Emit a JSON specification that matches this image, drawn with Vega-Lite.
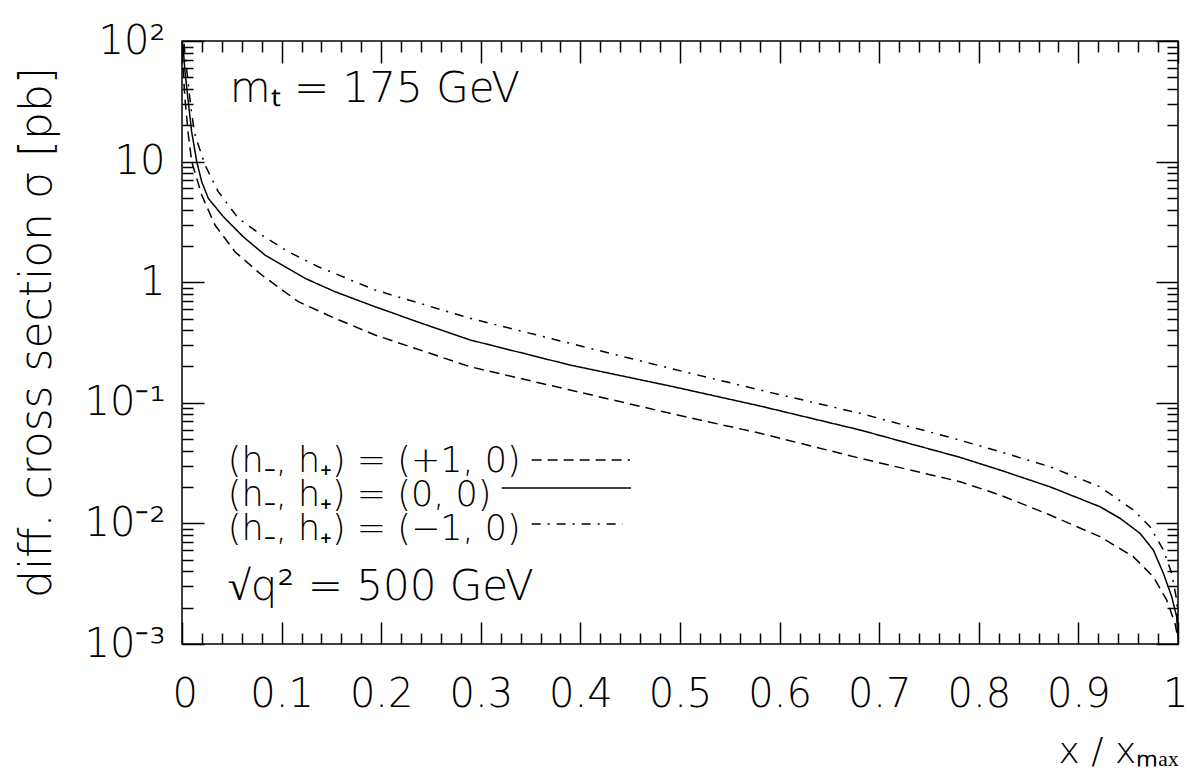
{
  "$schema": "https://vega.github.io/schema/vega-lite/v6.json",
  "autosize": {"type": "none"},
  "padding": {"left": 182, "top": 41, "right": 11, "bottom": 127},
  "width": 996,
  "height": 603,
  "background": "white",
  "config": {
    "view": {"stroke": "black", "strokeWidth": 1.5},
    "font": "DejaVu Sans",
    "axis": {"grid": false, "domain": false, "labelFont": "DejaVu Sans", "titleFont": "DejaVu Sans", "labelColor": "black", "titleColor": "black", "tickColor": "black", "tickWidth": 1.5, "labelFontWeight": 200, "titleFontWeight": 200}
  },
  "data": {"values": [
    {"x": 0.001, "s": 60, "series": "+1"},
    {"x": 0.003, "s": 33, "series": "+1"},
    {"x": 0.0063, "s": 17, "series": "+1"},
    {"x": 0.0097, "s": 10, "series": "+1"},
    {"x": 0.0198, "s": 5.28, "series": "+1"},
    {"x": 0.0331, "s": 2.98, "series": "+1"},
    {"x": 0.0532, "s": 1.79, "series": "+1"},
    {"x": 0.08, "s": 1.147, "series": "+1"},
    {"x": 0.1168, "s": 0.689, "series": "+1"},
    {"x": 0.1536, "s": 0.502, "series": "+1"},
    {"x": 0.1938, "s": 0.365, "series": "+1"},
    {"x": 0.2892, "s": 0.1992, "series": "+1"},
    {"x": 0.3896, "s": 0.1277, "series": "+1"},
    {"x": 0.49, "s": 0.0818, "series": "+1"},
    {"x": 0.5803, "s": 0.0559, "series": "+1"},
    {"x": 0.6807, "s": 0.0347, "series": "+1"},
    {"x": 0.7811, "s": 0.02217, "series": "+1"},
    {"x": 0.8213, "s": 0.0172, "series": "+1"},
    {"x": 0.8715, "s": 0.01174, "series": "+1"},
    {"x": 0.9217, "s": 0.00776, "series": "+1"},
    {"x": 0.9551, "s": 0.0053, "series": "+1"},
    {"x": 0.9752, "s": 0.00361, "series": "+1"},
    {"x": 0.9886, "s": 0.00232, "series": "+1"},
    {"x": 0.997, "s": 0.00148, "series": "+1"},
    {"x": 0.9998, "s": 0.00112, "series": "+1"},
    {"x": 0.001, "s": 92.6, "series": "0"},
    {"x": 0.003, "s": 55.6, "series": "0"},
    {"x": 0.0063, "s": 31.4, "series": "0"},
    {"x": 0.0097, "s": 17.7, "series": "0"},
    {"x": 0.0148, "s": 9.98, "series": "0"},
    {"x": 0.0198, "s": 6.81, "series": "0"},
    {"x": 0.0264, "s": 4.96, "series": "0"},
    {"x": 0.0415, "s": 3.49, "series": "0"},
    {"x": 0.0615, "s": 2.38, "series": "0"},
    {"x": 0.0833, "s": 1.68, "series": "0"},
    {"x": 0.1235, "s": 1.077, "series": "0"},
    {"x": 0.1536, "s": 0.834, "series": "0"},
    {"x": 0.1938, "s": 0.626, "series": "0"},
    {"x": 0.239, "s": 0.461, "series": "0"},
    {"x": 0.2892, "s": 0.332, "series": "0"},
    {"x": 0.3896, "s": 0.2057, "series": "0"},
    {"x": 0.49, "s": 0.1378, "series": "0"},
    {"x": 0.5803, "s": 0.0941, "series": "0"},
    {"x": 0.6807, "s": 0.0595, "series": "0"},
    {"x": 0.7811, "s": 0.0353, "series": "0"},
    {"x": 0.8213, "s": 0.0277, "series": "0"},
    {"x": 0.8715, "s": 0.0201, "series": "0"},
    {"x": 0.9217, "s": 0.01375, "series": "0"},
    {"x": 0.9418, "s": 0.01102, "series": "0"},
    {"x": 0.9618, "s": 0.00828, "series": "0"},
    {"x": 0.9752, "s": 0.00602, "series": "0"},
    {"x": 0.9853, "s": 0.00386, "series": "0"},
    {"x": 0.9937, "s": 0.00247, "series": "0"},
    {"x": 0.9987, "s": 0.00168, "series": "0"},
    {"x": 0.9998, "s": 0.00115, "series": "0"},
    {"x": 0.002, "s": 95, "series": "-1"},
    {"x": 0.003, "s": 78, "series": "-1"},
    {"x": 0.006, "s": 46, "series": "-1"},
    {"x": 0.0097, "s": 25, "series": "-1"},
    {"x": 0.0131, "s": 16.6, "series": "-1"},
    {"x": 0.0231, "s": 9.37, "series": "-1"},
    {"x": 0.0364, "s": 5.63, "series": "-1"},
    {"x": 0.0565, "s": 3.39, "series": "-1"},
    {"x": 0.08, "s": 2.46, "series": "-1"},
    {"x": 0.1067, "s": 1.79, "series": "-1"},
    {"x": 0.1368, "s": 1.344, "series": "-1"},
    {"x": 0.1938, "s": 0.862, "series": "-1"},
    {"x": 0.2892, "s": 0.502, "series": "-1"},
    {"x": 0.3896, "s": 0.3113, "series": "-1"},
    {"x": 0.49, "s": 0.1932, "series": "-1"},
    {"x": 0.5803, "s": 0.1277, "series": "-1"},
    {"x": 0.6807, "s": 0.0818, "series": "-1"},
    {"x": 0.7744, "s": 0.0508, "series": "-1"},
    {"x": 0.8213, "s": 0.0393, "series": "-1"},
    {"x": 0.8715, "s": 0.0295, "series": "-1"},
    {"x": 0.9217, "s": 0.0201, "series": "-1"},
    {"x": 0.9551, "s": 0.01292, "series": "-1"},
    {"x": 0.9719, "s": 0.00939, "series": "-1"},
    {"x": 0.9853, "s": 0.00602, "series": "-1"},
    {"x": 0.9937, "s": 0.00386, "series": "-1"},
    {"x": 0.9987, "s": 0.00232, "series": "-1"},
    {"x": 0.9998, "s": 0.0014, "series": "-1"}
  ]},
  "resolve": {"axis": {"x": "independent", "y": "independent"}},
  "layer": [
    {
      "mark": {"type": "line", "color": "black", "strokeWidth": 1.5, "clip": true},
      "encoding": {
        "x": {"field": "x", "type": "quantitative", "sort": null,
          "scale": {"domain": [0, 1], "nice": false, "zero": false},
          "axis": {"orient": "bottom", "values": [0, 0.1, 0.2, 0.3, 0.4, 0.5, 0.6, 0.7, 0.8, 0.9, 1], "ticks": false, "labelFontSize": 40, "labelPadding": 30, "labelFlush": true, "labelFlushOffset": 10, "labelOverlap": false, "labelBound": false,
            "labelExpr": "datum.value == 0 ? '0' : datum.value == 1 ? '1' : format(datum.value, '.1f')",
            "title": "x / xₘₐₓ", "titleFontSize": 36, "titleX": 996, "titleY": 118, "titleAlign": "right", "titleBaseline": "alphabetic", "titleAnchor": null}},
        "y": {"field": "s", "type": "quantitative",
          "scale": {"type": "log", "domain": [0.001, 100], "nice": false},
          "axis": {"orient": "left", "values": [0.001, 0.01, 0.1, 1, 10, 100], "ticks": false, "labelFontSize": 40, "labelPadding": 17, "labelOverlap": false, "labelBound": false, "labelFlush": false,
            "labelExpr": "datum.value >= 50 ? '10²' : datum.value >= 5 ? '10\u2007' : datum.value >= 0.5 ? '1\u2007' : datum.value >= 0.05 ? '10⁻¹' : datum.value >= 0.005 ? '10⁻²' : '10⁻³'",
            "title": "diff. cross section σ [pb]", "titleFontSize": 44, "titleAngle": -90, "titleX": -145, "titleY": 291, "titleAlign": "center", "titleBaseline": "middle", "titleAnchor": null}},
        "strokeDash": {"field": "series", "type": "nominal",
          "scale": {"domain": ["+1", "0", "-1"], "range": [[10, 6], [1, 0], [9, 7, 2, 7]]},
          "legend": null}
      }
    },
    {
      "mark": {"type": "point", "opacity": 0},
      "encoding": {
        "x": {"field": "x", "type": "quantitative", "axis": {"orient": "bottom", "values": [0, 0.1, 0.2, 0.3, 0.4, 0.5, 0.6, 0.7, 0.8, 0.9, 1], "labels": false, "tickSize": -22, "title": null}},
        "y": {"field": "s", "type": "quantitative", "axis": {"orient": "left", "values": [0.001, 0.01, 0.1, 1, 10, 100], "labels": false, "tickSize": -22, "title": null}}
      }
    },
    {
      "mark": {"type": "point", "opacity": 0},
      "encoding": {
        "x": {"field": "x", "type": "quantitative", "axis": {"orient": "bottom", "values": [0.02, 0.04, 0.06, 0.08, 0.12, 0.14, 0.16, 0.18, 0.22, 0.24, 0.26, 0.28, 0.32, 0.34, 0.36, 0.38, 0.42, 0.44, 0.46, 0.48, 0.52, 0.54, 0.56, 0.58, 0.62, 0.64, 0.66, 0.68, 0.72, 0.74, 0.76, 0.78, 0.82, 0.84, 0.86, 0.88, 0.92, 0.94, 0.96, 0.98], "labels": false, "tickSize": -11, "title": null}},
        "y": {"field": "s", "type": "quantitative", "axis": {"orient": "left", "values": [0.002, 0.003, 0.004, 0.005, 0.006, 0.007, 0.008, 0.009, 0.02, 0.03, 0.04, 0.05, 0.06, 0.07, 0.08, 0.09, 0.2, 0.3, 0.4, 0.5, 0.6, 0.7, 0.8, 0.9, 2, 3, 4, 5, 6, 7, 8, 9, 20, 30, 40, 50, 60, 70, 80, 90], "labels": false, "tickSize": -11, "title": null}}
      }
    },
    {
      "mark": {"type": "point", "opacity": 0},
      "encoding": {
        "x": {"field": "x", "type": "quantitative", "axis": {"orient": "top", "values": [0, 0.1, 0.2, 0.3, 0.4, 0.5, 0.6, 0.7, 0.8, 0.9, 1], "labels": false, "tickSize": -22, "title": null}},
        "y": {"field": "s", "type": "quantitative", "axis": {"orient": "right", "values": [0.001, 0.01, 0.1, 1, 10, 100], "labels": false, "tickSize": -22, "title": null}}
      }
    },
    {
      "mark": {"type": "point", "opacity": 0},
      "encoding": {
        "x": {"field": "x", "type": "quantitative", "axis": {"orient": "top", "values": [0.02, 0.04, 0.06, 0.08, 0.12, 0.14, 0.16, 0.18, 0.22, 0.24, 0.26, 0.28, 0.32, 0.34, 0.36, 0.38, 0.42, 0.44, 0.46, 0.48, 0.52, 0.54, 0.56, 0.58, 0.62, 0.64, 0.66, 0.68, 0.72, 0.74, 0.76, 0.78, 0.82, 0.84, 0.86, 0.88, 0.92, 0.94, 0.96, 0.98], "labels": false, "tickSize": -11, "title": null}},
        "y": {"field": "s", "type": "quantitative", "axis": {"orient": "right", "values": [0.002, 0.003, 0.004, 0.005, 0.006, 0.007, 0.008, 0.009, 0.02, 0.03, 0.04, 0.05, 0.06, 0.07, 0.08, 0.09, 0.2, 0.3, 0.4, 0.5, 0.6, 0.7, 0.8, 0.9, 2, 3, 4, 5, 6, 7, 8, 9, 20, 30, 40, 50, 60, 70, 80, 90], "labels": false, "tickSize": -11, "title": null}}
      }
    },
    {
      "data": {"values": [{}]},
      "mark": {"type": "text", "text": "mₜ = 175 GeV", "align": "left", "baseline": "alphabetic", "fontSize": 42, "font": "DejaVu Sans", "fontWeight": 200, "color": "black"},
      "encoding": {"x": {"datum": 0.048, "type": "quantitative", "axis": null}, "y": {"datum": 31.2, "type": "quantitative", "axis": null}}
    },
    {
      "data": {"values": [{}]},
      "mark": {"type": "text", "text": "(h₋, h₊) = (+1, 0)", "align": "left", "baseline": "alphabetic", "fontSize": 35, "font": "DejaVu Sans", "fontWeight": 200, "color": "black"},
      "encoding": {"x": {"datum": 0.046, "type": "quantitative", "axis": null}, "y": {"datum": 0.02667, "type": "quantitative", "axis": null}}
    },
    {
      "data": {"values": [{}]},
      "mark": {"type": "text", "text": "(h₋, h₊) = (0, 0)", "align": "left", "baseline": "alphabetic", "fontSize": 35, "font": "DejaVu Sans", "fontWeight": 200, "color": "black"},
      "encoding": {"x": {"datum": 0.046, "type": "quantitative", "axis": null}, "y": {"datum": 0.01394, "type": "quantitative", "axis": null}}
    },
    {
      "data": {"values": [{}]},
      "mark": {"type": "text", "text": "(h₋, h₊) = (−1, 0)", "align": "left", "baseline": "alphabetic", "fontSize": 35, "font": "DejaVu Sans", "fontWeight": 200, "color": "black"},
      "encoding": {"x": {"datum": 0.046, "type": "quantitative", "axis": null}, "y": {"datum": 0.00729, "type": "quantitative", "axis": null}}
    },
    {
      "data": {"values": [{}]},
      "mark": {"type": "text", "text": "√q² = 500 GeV", "align": "left", "baseline": "alphabetic", "fontSize": 42, "font": "DejaVu Sans", "fontWeight": 200, "color": "black"},
      "encoding": {"x": {"datum": 0.046, "type": "quantitative", "axis": null}, "y": {"datum": 0.002317, "type": "quantitative", "axis": null}}
    },
    {
      "data": {"values": [{}]},
      "mark": {"type": "rule", "color": "black", "strokeWidth": 1.5, "strokeDash": [10, 6]},
      "encoding": {"x": {"datum": 0.3511, "type": "quantitative", "axis": null}, "x2": {"datum": 0.4498}, "y": {"datum": 0.03357, "type": "quantitative", "axis": null}}
    },
    {
      "data": {"values": [{}]},
      "mark": {"type": "rule", "color": "black", "strokeWidth": 1.5},
      "encoding": {"x": {"datum": 0.321, "type": "quantitative", "axis": null}, "x2": {"datum": 0.4508}, "y": {"datum": 0.01965, "type": "quantitative", "axis": null}}
    },
    {
      "data": {"values": [{}]},
      "mark": {"type": "rule", "color": "black", "strokeWidth": 1.5, "strokeDash": [9, 7, 2, 7]},
      "encoding": {"x": {"datum": 0.3511, "type": "quantitative", "axis": null}, "x2": {"datum": 0.4428}, "y": {"datum": 0.00989, "type": "quantitative", "axis": null}}
    }
  ]
}
